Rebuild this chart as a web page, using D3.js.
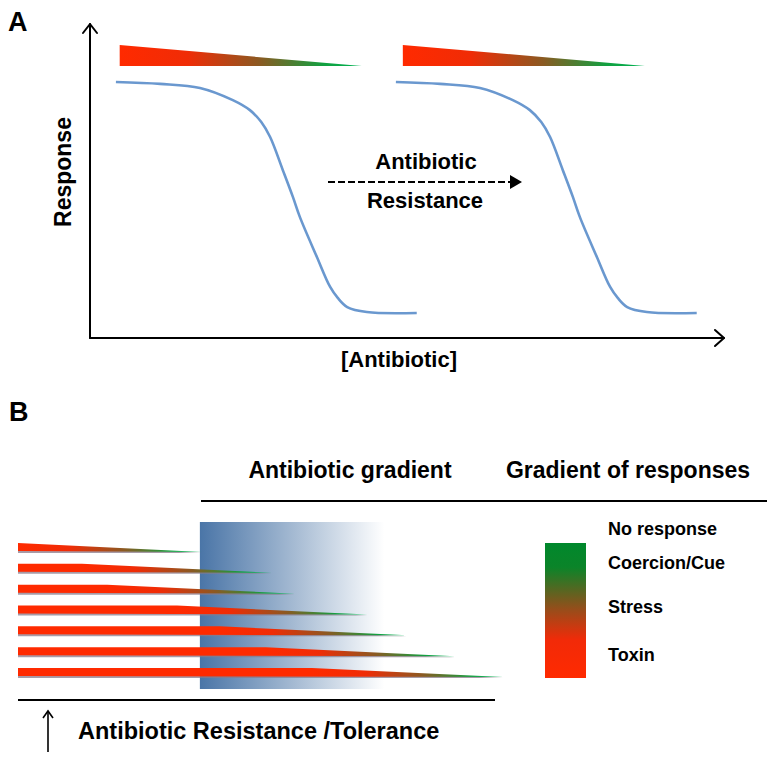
<!DOCTYPE html>
<html><head><meta charset="utf-8">
<script src="https://cdn.jsdelivr.net/npm/d3@7"></script>
<style>
body{margin:0;background:#fff}
svg{display:block}
text{font-family:"Liberation Sans",Arial,Helvetica,sans-serif;font-weight:bold;fill:#000}
</style>
</head><body>
<svg id="c" width="777" height="761"></svg>
<script>
// ---------- Panel A data ----------
const doseSensitive  = [0.41,1.11,1.74,2.26,2.53,2.71,2.85,3.05,3.21,3.32,3.59,3.80,3.92,4.07,4.38,5.17];
const doseResistant  = [4.84,5.54,6.17,6.69,6.96,7.14,7.28,7.48,7.64,7.75,8.02,8.23,8.35,8.50,8.81,9.60];
const responseValues = [81.8,81.2,79.9,76.0,72.8,69.0,64.2,53.7,45.1,38.7,25.9,16.3,12.8,9.9,8.3,8.0];
const wedgeStartA = [0.47, 4.95];
const wedgeEndA   = [4.30, 8.78];

// ---------- Panel B data ----------
const strainRows       = [1,2,3,4,5,6,7];
const resistanceLevel  = [0, 13.2, 18.4, 32.8, 41.6, 51.1, 60.6];
const responseReach    = [37.9, 52.4, 57.1, 72.0, 80.2, 90.1, 100];
const gradientExtent   = [37.5, 76.7];
const legendLabels     = ["No response","Coercion/Cue","Stress","Toxin"];

const svg = d3.select("#c");
const defs = svg.append("defs");

function wedgeGradient(id, x1, x2){
  const g = defs.append("linearGradient").attr("id", id)
    .attr("gradientUnits","userSpaceOnUse").attr("x1",x1).attr("x2",x2).attr("y1",0).attr("y2",0);
  [[0,"#ff2a00"],[0.28,"#f02c06"],[0.58,"#8a5a22"],[0.84,"#12a040"],[1,"#00b454"]]
    .forEach(([o,c])=>g.append("stop").attr("offset",o).attr("stop-color",c));
}

// ================= Panel A =================
const xA = d3.scaleLinear().domain([0,10]).range([90,722]);
const yA = d3.scaleLinear().domain([0,100]).range([338,25]);

svg.append("text").attr("x",8).attr("y",31).attr("font-size",27).text("A");

// axes
const ax = svg.append("g").attr("stroke","#000").attr("stroke-width",2).attr("fill","none")
  .attr("stroke-linecap","round").attr("stroke-linejoin","round");
ax.append("path").attr("d",`M${xA(0)},${yA(0)}V${yA(100)-1}`);
ax.append("path").attr("d",`M${xA(0)-7},${yA(100)+8}L${xA(0)},${yA(100)-1}L${xA(0)+7},${yA(100)+8}`);
ax.append("path").attr("d",`M${xA(0)},${yA(0)}H${xA(10)+2}`);
ax.append("path").attr("d",`M${xA(10)-7},${yA(0)-8}L${xA(10)+2},${yA(0)}L${xA(10)-7},${yA(0)+8}`);

svg.append("text").attr("transform",`translate(71,172) rotate(-90)`)
  .attr("text-anchor","middle").attr("font-size",23).text("Response");
svg.append("text").attr("x",399).attr("y",367).attr("text-anchor","middle")
  .attr("font-size",22).text("[Antibiotic]");

// wedges above curves
wedgeStartA.forEach((s,i)=>{
  const x0 = xA(s), x1 = xA(wedgeEndA[i]);
  wedgeGradient("wa"+i, x0, x1);
  svg.append("path").attr("d",`M${x0},45L${x1},66L${x0},66Z`).attr("fill",`url(#wa${i})`);
});

// dose response curves
const line = d3.line().x(d=>xA(d[0])).y(d=>yA(d[1])).curve(d3.curveCatmullRom.alpha(0.5));
[doseSensitive, doseResistant].forEach(dose=>{
  svg.append("path").datum(dose.map((d,i)=>[d,responseValues[i]]))
    .attr("d",line).attr("fill","none").attr("stroke","#6a98cf").attr("stroke-width",2.6);
});

// dashed arrow + labels
svg.append("line").attr("x1",328).attr("x2",511).attr("y1",182).attr("y2",182)
  .attr("stroke","#000").attr("stroke-width",2).attr("stroke-dasharray","7,3");
svg.append("path").attr("d","M510,175L522,182L510,189Z").attr("fill","#000");
svg.append("text").attr("x",426).attr("y",169).attr("text-anchor","middle").attr("font-size",22).text("Antibiotic");
svg.append("text").attr("x",425).attr("y",208).attr("text-anchor","middle").attr("font-size",22).text("Resistance");

// ================= Panel B =================
svg.append("text").attr("x",9).attr("y",421).attr("font-size",27).text("B");

const xB = d3.scaleLinear().domain([0,100]).range([18,503]);
const yB = d3.scalePoint().domain(strainRows).range([543,668]);
const barH = 10;

svg.append("text").attr("x",350).attr("y",478).attr("text-anchor","middle").attr("font-size",23).text("Antibiotic gradient");
svg.append("text").attr("x",628).attr("y",478).attr("text-anchor","middle").attr("font-size",23).text("Gradient of responses");
svg.append("line").attr("x1",201).attr("x2",767).attr("y1",501).attr("y2",501).attr("stroke","#000").attr("stroke-width",2.2);

// antibiotic gradient rectangle
const bg = defs.append("linearGradient").attr("id","blueG");
bg.append("stop").attr("offset",0).attr("stop-color","#4a75a7");
bg.append("stop").attr("offset",0.5).attr("stop-color","#a6bbd3");
bg.append("stop").attr("offset",0.97).attr("stop-color","#ffffff");
svg.append("rect").attr("x",xB(gradientExtent[0])).attr("y",522)
  .attr("width",xB(gradientExtent[1])-xB(gradientExtent[0])).attr("height",167)
  .attr("fill","url(#blueG)");

// strain wedges
strainRows.forEach((r,i)=>{
  const x0 = xB(0), xf = xB(resistanceLevel[i]), xt = xB(responseReach[i]);
  const top = yB(r), bot = top + barH;
  wedgeGradient("wb"+i, xf, xt);
  svg.append("path").attr("d",`M${x0},${top+2}L${xf},${top+2}L${xt},${bot}L${x0},${bot}Z`)
    .attr("fill","#8a7a8a").attr("opacity",0.75);
  svg.append("path").attr("d",`M${x0},${top}L${xf},${top}L${xt},${bot-1}L${x0},${bot-2}Z`)
    .attr("fill",`url(#wb${i})`);
});

svg.append("line").attr("x1",18).attr("x2",495).attr("y1",700).attr("y2",700).attr("stroke","#000").attr("stroke-width",2.2);
const up = svg.append("g").attr("stroke","#000").attr("stroke-width",1.6).attr("fill","none");
up.append("path").attr("d","M48,752V711");
up.append("path").attr("d","M43,718L48,711L53,718");
svg.append("text").attr("x",78).attr("y",739).attr("font-size",23.5).text("Antibiotic Resistance /Tolerance");

// legend
const lg = defs.append("linearGradient").attr("id","legG").attr("x1",0).attr("x2",0).attr("y1",0).attr("y2",1);
[[0,"#00882c"],[0.18,"#0b8429"],[0.5,"#9a4c1a"],[0.72,"#f22a08"],[1,"#ff2a00"]]
  .forEach(([o,c])=>lg.append("stop").attr("offset",o).attr("stop-color",c));
svg.append("rect").attr("x",545).attr("y",543).attr("width",41).attr("height",135).attr("fill","url(#legG)");
const legY = d3.scaleOrdinal().domain(legendLabels).range([535,569,613,661]);
legendLabels.forEach(l=>{
  svg.append("text").attr("x",608).attr("y",legY(l)).attr("font-size",18).text(l);
});
</script>
</body></html>
